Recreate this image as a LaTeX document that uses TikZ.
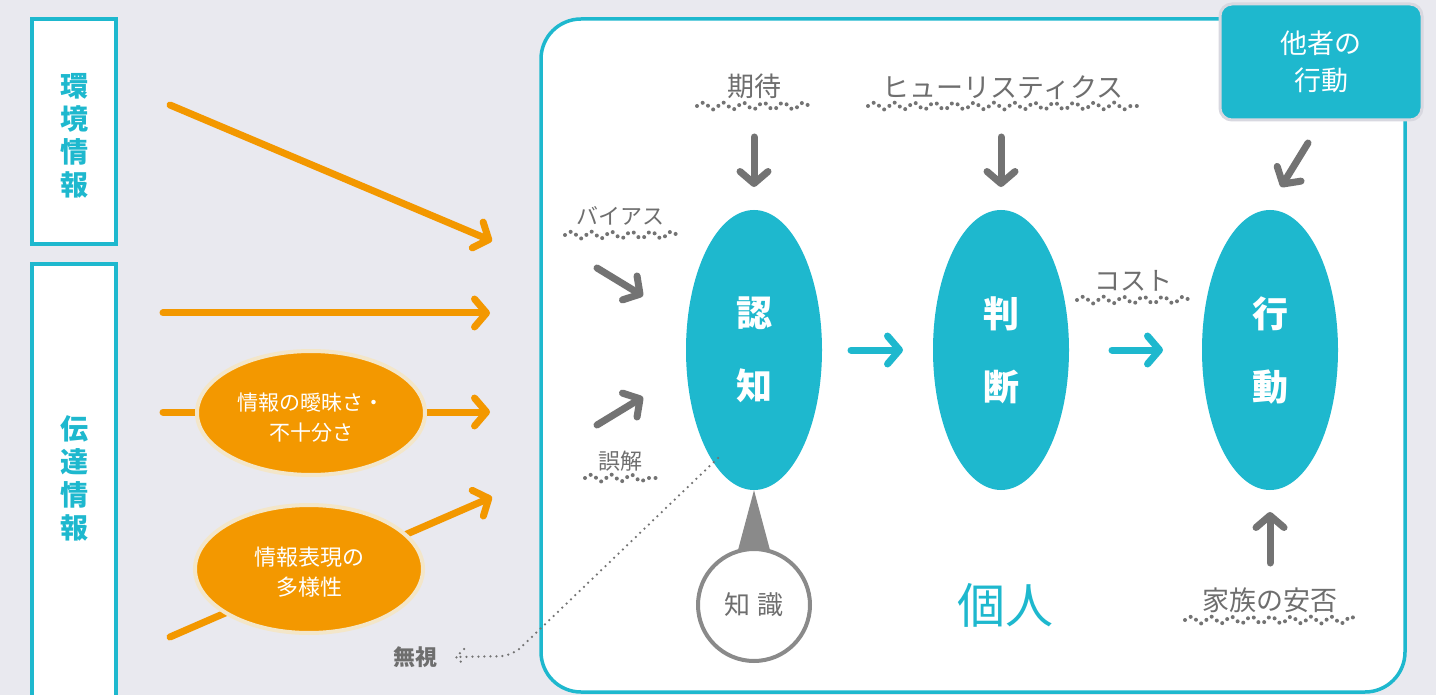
\documentclass[tikz,border=0pt]{standalone}
\usepackage{fontspec}
\setmainfont{Noto Sans CJK JP}
\usetikzlibrary{arrows.meta,decorations.pathmorphing,shapes.geometric}
\definecolor{tealc}{HTML}{1EB8CE}
\definecolor{orangec}{HTML}{F39800}
\definecolor{glowc}{HTML}{F3E6C9}
\definecolor{bgc}{HTML}{E9E9EF}
\definecolor{garrowc}{HTML}{737373}
\definecolor{gtextc}{HTML}{6E6E6E}
\definecolor{kgrayc}{HTML}{8A8A8A}
\definecolor{shadowc}{HTML}{D8D8E0}
\begin{document}
\begin{tikzpicture}[x=1pt,y=-1pt,
  oarrow/.style={draw=orangec,line width=7,line cap=round,
    -{Straight Barb[length=12pt,width=28pt,round]}},
  garrow/.style={draw=garrowc,line width=7,line cap=round,
    -{Straight Barb[length=12pt,width=28pt,round]}},
  tarrow/.style={draw=tealc,line width=7,line cap=round,
    -{Straight Barb[length=12pt,width=28pt,round]}},
  bigell/.style={ellipse,fill=tealc,minimum width=136,minimum height=280,inner sep=0,
    text=white,align=center,font=\fontsize{36}{73}\selectfont\bfseries},
  orell/.style={ellipse,fill=orangec,draw=glowc,line width=4,minimum width=228,inner sep=0},
  ortext/.style={text=white,align=center,inner sep=0},
  lbl/.style={text=gtextc,inner sep=0,font=\fontsize{27}{27}\selectfont},
  wave/.style={draw=garrowc,line width=4,line cap=round,dash pattern=on 0pt off 6.5pt,
    decorate,decoration={snake,amplitude=3.5pt,segment length=20pt}},
  dotline/.style={draw=garrowc,line width=2.5,line cap=round,dash pattern=on 0pt off 6pt},
  sidebox/.style={draw=tealc,line width=4,fill=white},
  sidetext/.style={text=tealc,align=center,font=\fontsize{28}{33}\selectfont\bfseries}
]
\useasboundingbox (0,0) rectangle (1436,695);
\fill[bgc] (0,0) rectangle (1436,695);

% left boxes
\draw[sidebox] (32,19) rectangle (116,244);
\draw[sidebox] (32,264) rectangle (116,705);
\node[sidetext] (kankyo) at (74,136) {環\\境\\情\\報};
\node[sidetext] (dentatsu) at (74,478) {伝\\達\\情\\報};

% main frame
\draw[tealc,line width=3.5,fill=white,rounded corners=40] (541,19) rectangle (1405,692);

% orange arrows
\coordinate (o1s) at (170,105); \coordinate (o1e) at (492,241);
\coordinate (o2s) at (163,313); \coordinate (o2e) at (490,313);
\coordinate (o3s) at (163,412); \coordinate (o3e) at (490,412);
\coordinate (o4s) at (170,637); \coordinate (o4e) at (492,497);
\draw[oarrow] (o1s) -- (o1e);
\draw[oarrow] (o2s) -- (o2e);
\draw[oarrow] (o3s) -- (o3e);
\draw[oarrow] (o4s) -- (o4e);
\node[orell,minimum height=124] (aimai) at (311,413) {};
\node[ortext,font=\fontsize{21}{30}\selectfont] (aimaitext) at (311,418) {情報の曖昧さ・\\不十分さ};
\node[orell,minimum height=128] (tayou) at (309,569) {};
\node[ortext,font=\fontsize{22}{30}\selectfont] (tayoutext) at (309,572) {情報表現の\\多様性};

% big ellipses
\node[bigell] (ninchi) at (754,350) {認\\知};
\node[bigell] (handan) at (1001,350) {判\\断};
\node[bigell] (koudou) at (1270,350) {行\\動};

% teal arrows
\coordinate (t1s) at (851,350); \coordinate (t1e) at (903,350);
\coordinate (t2s) at (1112,350); \coordinate (t2e) at (1163,350);
\draw[tarrow] (t1s) -- (t1e);
\draw[tarrow] (t2s) -- (t2e);

% labels with wavy dotted underline
\node[lbl] (kitai) at (754,86) {期待};
\draw[wave] (697,106) -- (811,106);
\node[lbl] (heur) at (1003,88) {ヒューリスティクス};
\draw[wave] (868,106) -- (1137,106);
\node[lbl,font=\fontsize{22}{22}\selectfont] (bias) at (620,216) {バイアス};
\draw[wave] (565,235) -- (678,235);
\node[lbl,font=\fontsize{22}{22}\selectfont] (gokai) at (620,461) {誤解};
\draw[wave] (585,478) -- (656,478);
\node[lbl,font=\fontsize{26}{26}\selectfont] (cost) at (1133,281) {コスト};
\draw[wave] (1077,300) -- (1191,300);
\node[lbl] (kazoku) at (1270,600) {家族の安否};
\draw[wave] (1185,620) -- (1358,620);

% other's behaviour box
\node[fill=tealc,draw=shadowc,line width=3,rounded corners=12,minimum width=202,minimum height=116,
  inner sep=0,text=white,align=center,font=\fontsize{27}{37}\selectfont] (tasha) at (1321,62) {他者の\\行動};

% gray arrows
\coordinate (g1s) at (754,137); \coordinate (g1e) at (754,187);
\coordinate (g2s) at (1001,137); \coordinate (g2e) at (1001,187);
\coordinate (g3s) at (1308,143); \coordinate (g3e) at (1281,187);
\coordinate (g4s) at (597,268); \coordinate (g4e) at (643,296);
\coordinate (g5s) at (597,425); \coordinate (g5e) at (643,397);
\coordinate (g6s) at (1270,563); \coordinate (g6e) at (1270,512);
\draw[garrow] (g1s) -- (g1e);
\draw[garrow] (g2s) -- (g2e);
\draw[garrow] (g3s) -- (g3e);
\draw[garrow] (g4s) -- (g4e);
\draw[garrow] (g5s) -- (g5e);
\draw[garrow] (g6s) -- (g6e);

% knowledge
\fill[kgrayc] (ninchi.south) -- (734,565) -- (774,565) -- cycle;
\node[circle,draw=kgrayc,line width=4,fill=white,minimum size=112,inner sep=0,
  text=gtextc,font=\fontsize{26}{26}\selectfont] (chishiki) at (754,605) {知\hspace{8pt}識};

% individual
\node[text=tealc,inner sep=0,font=\fontsize{48}{48}\selectfont] (kojin) at (1005,605) {個人};

% ignore
\node[text=gtextc,inner sep=0,font=\fontsize{22}{22}\selectfont\bfseries] (mushi) at (415,657) {無視};
\coordinate (ds) at (718,458); \coordinate (dc) at (512,656); \coordinate (de) at (456,657);
\draw[dotline,rounded corners=12] (ds) -- (dc) -- (de);
\draw[dotline] (464,649) -- (de) -- (464,665);
\end{tikzpicture}
\end{document}
